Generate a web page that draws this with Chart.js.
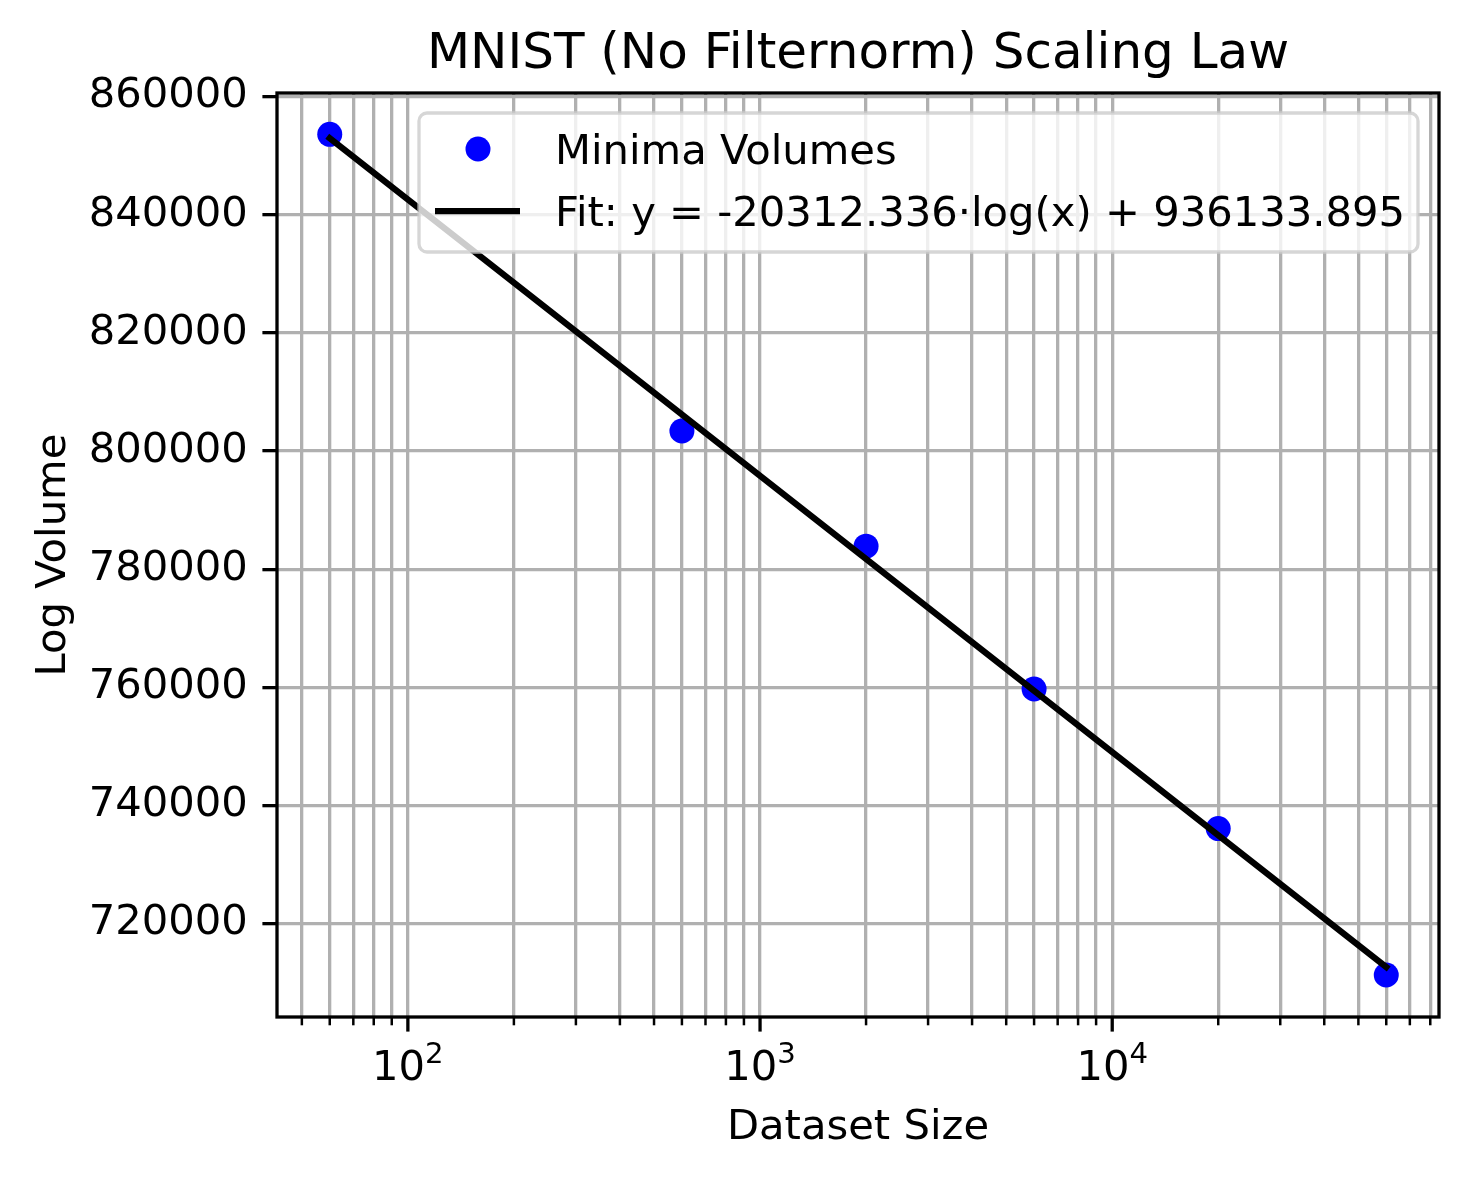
<!DOCTYPE html>
<html>
<head>
<meta charset="utf-8">
<title>MNIST (No Filternorm) Scaling Law</title>
<script src="https://cdn.jsdelivr.net/npm/chart.js@4/dist/chart.umd.min.js"></script>
<style>
  html, body { margin: 0; padding: 0; background: #fff; }
  canvas { display: block; }
</style>
</head>
<body>
<canvas id="scalingChart" width="1469" height="1177"></canvas>
<script>
// values
const datasetSizes = [60, 600, 2000, 6000, 20000, 60000];
const logVolumes = [853620, 803390, 783890, 759710, 736080, 711300];

// fit line end points: y = -20312.336*ln(x) + 936133.895
const fitSizes = [60, 60000];
const fitVolumes = [852968, 712656];

const yTicks = [720000, 740000, 760000, 780000, 800000, 820000, 840000, 860000];
const xMajorTicks = [100, 1000, 10000];
const xMajorExp = ['2', '3', '4'];
const xMinorTicks = [50, 60, 70, 80, 90,
  200, 300, 400, 500, 600, 700, 800, 900,
  2000, 3000, 4000, 5000, 6000, 7000, 8000, 9000,
  20000, 30000, 40000, 50000, 60000, 70000, 80000];

const titleText = 'MNIST (No Filternorm) Scaling Law';
const xLabel = 'Dataset Size';
const yLabel = 'Log Volume';
const legendLabels = ['Minima Volumes', 'Fit: y = -20312.336\u00b7log(x) + 936133.895'];

const FONT = '"DejaVu Sans", "Liberation Sans", sans-serif';
const FS = 41.7;

// axes frame, x tick marks and x tick labels (10^n)
const axesDecor = {
    id: 'axesDecor',
    afterDatasetsDraw(chart) {
        const { ctx, chartArea: a, scales } = chart;
        const x = scales.x;
        ctx.save();
        ctx.strokeStyle = '#000';
        ctx.lineCap = 'butt';

        ctx.lineWidth = 2.5;
        xMinorTicks.forEach(v => {
            const px = x.getPixelForValue(v);
            ctx.beginPath();
            ctx.moveTo(px, a.bottom);
            ctx.lineTo(px, a.bottom + 8.3);
            ctx.stroke();
        });
        ctx.lineWidth = 3.3;
        xMajorTicks.forEach(v => {
            const px = x.getPixelForValue(v);
            ctx.beginPath();
            ctx.moveTo(px, a.bottom);
            ctx.lineTo(px, a.bottom + 14.6);
            ctx.stroke();
        });

        // spines
        ctx.lineWidth = 3.3;
        ctx.strokeRect(a.left, a.top, a.right - a.left, a.bottom - a.top);

        // x tick labels with superscript exponent
        ctx.fillStyle = '#000';
        ctx.textBaseline = 'alphabetic';
        ctx.textAlign = 'left';
        const base = a.bottom + 62.5;
        xMajorTicks.forEach((v, i) => {
            const px = x.getPixelForValue(v);
            ctx.font = FS + 'px ' + FONT;
            const w1 = ctx.measureText('10').width;
            ctx.font = (FS * 0.7) + 'px ' + FONT;
            const w2 = ctx.measureText(xMajorExp[i]).width;
            const start = px - (w1 + w2) / 2;
            ctx.font = FS + 'px ' + FONT;
            ctx.fillText('10', start, base);
            ctx.font = (FS * 0.7) + 'px ' + FONT;
            ctx.fillText(xMajorExp[i], start + w1, base - 16.5);
        });
        ctx.restore();
    },
    afterDraw(chart) {
        const { ctx, chartArea: a } = chart;
        const cx = (a.left + a.right) / 2;
        ctx.save();
        ctx.fillStyle = '#000';
        ctx.textAlign = 'center';
        ctx.textBaseline = 'alphabetic';

        // title
        ctx.font = '50px ' + FONT;
        ctx.fillText(titleText, cx, a.top - 25);

        // axis labels
        ctx.font = FS + 'px ' + FONT;
        ctx.fillText(xLabel, cx, 1139);
        ctx.save();
        ctx.translate(65, (a.top + a.bottom) / 2);
        ctx.rotate(-Math.PI / 2);
        ctx.fillText(yLabel, 0, 0);
        ctx.restore();

        // legend box
        const lx = 419, ly = 113, lw = 999, lh = 139, r = 8;
        ctx.beginPath();
        ctx.moveTo(lx + r, ly);
        ctx.arcTo(lx + lw, ly, lx + lw, ly + lh, r);
        ctx.arcTo(lx + lw, ly + lh, lx, ly + lh, r);
        ctx.arcTo(lx, ly + lh, lx, ly, r);
        ctx.arcTo(lx, ly, lx + lw, ly, r);
        ctx.closePath();
        ctx.fillStyle = 'rgba(255,255,255,0.8)';
        ctx.fill();
        ctx.lineWidth = 3.3;
        ctx.strokeStyle = 'rgba(204,204,204,0.8)';
        ctx.stroke();

        // legend handles
        ctx.fillStyle = '#0000ff';
        ctx.beginPath();
        ctx.arc(478, 149, 12.5, 0, Math.PI * 2);
        ctx.fill();
        ctx.strokeStyle = '#000';
        ctx.lineWidth = 6.25;
        ctx.lineCap = 'butt';
        ctx.beginPath();
        ctx.moveTo(435, 211);
        ctx.lineTo(520, 211);
        ctx.stroke();

        ctx.fillStyle = '#000';
        ctx.textAlign = 'left';
        ctx.font = FS + 'px ' + FONT;
        ctx.fillText(legendLabels[0], 555, 164);
        ctx.fillText(legendLabels[1], 555, 226);
        ctx.restore();
    }
};

const ctx = document.getElementById('scalingChart').getContext('2d');
const chart = new Chart(ctx, {
    type: 'scatter',
    data: {
        datasets: [
            {
                type: 'line',
                label: legendLabels[1],
                data: fitSizes.map((v, i) => ({ x: v, y: fitVolumes[i] })),
                borderColor: '#000',
                borderWidth: 6.25,
                borderCapStyle: 'square',
                pointRadius: 0,
                fill: false,
                tension: 0,
                order: 0
            },
            {
                label: legendLabels[0],
                data: datasetSizes.map((v, i) => ({ x: v, y: logVolumes[i] })),
                backgroundColor: '#0000ff',
                borderWidth: 0,
                pointRadius: 12.5,
                pointHoverRadius: 12.5,
                order: 1
            }
        ]
    },
    options: {
        responsive: false,
        devicePixelRatio: 1,
        animation: false,
        events: [],
        layout: {
            padding: { left: 0, top: 93, right: 30, bottom: 0 }
        },
        plugins: {
            legend: { display: false },
            title: { display: false },
            tooltip: { enabled: false }
        },
        scales: {
            x: {
                type: 'logarithmic',
                position: 'bottom',
                min: 42.5,
                max: 84700,
                afterBuildTicks: s => {
                    s.ticks = xMinorTicks.concat(xMajorTicks).sort((a, b) => a - b).map(v => ({ value: v }));
                },
                afterFit: s => { s.height = 160; },
                ticks: { display: false },
                grid: {
                    color: '#b0b0b0',
                    lineWidth: 3.3,
                    drawTicks: false
                },
                border: { display: false }
            },
            y: {
                type: 'linear',
                position: 'left',
                min: 704190,
                max: 860610,
                afterBuildTicks: s => {
                    s.ticks = yTicks.map(v => ({ value: v }));
                },
                afterFit: s => { s.width = 277; },
                ticks: {
                    autoSkip: false,
                    padding: 14.6,
                    color: '#000',
                    font: { family: FONT, size: FS },
                    callback: v => String(v)
                },
                grid: {
                    color: '#b0b0b0',
                    lineWidth: 3.3,
                    drawTicks: true,
                    tickLength: 14.6,
                    tickColor: '#000',
                    tickWidth: 3.3
                },
                border: { display: false }
            }
        }
    },
    plugins: [axesDecor]
});
</script>
</body>
</html>
